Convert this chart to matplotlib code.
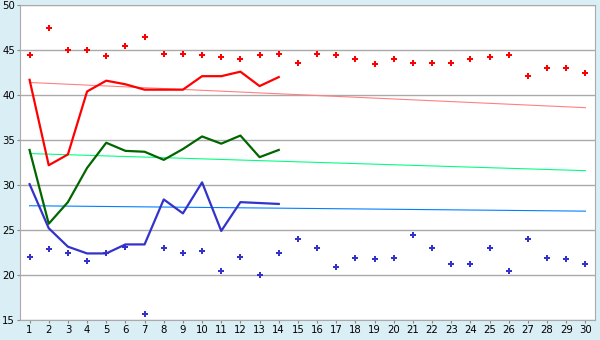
import matplotlib
matplotlib.use("Agg")
import matplotlib.pyplot as plt

days = list(range(1, 31))
line_days = list(range(1, 15))

# upper / lower markers
red_pts = [44.5, 47.4, 45.0, 45.0, 44.3, 45.5, 46.5, 44.6, 44.6, 44.5,
           44.2, 44.0, 44.5, 44.6, 43.6, 44.6, 44.5, 44.0, 43.4, 44.0,
           43.6, 43.6, 43.6, 44.0, 44.2, 44.5, 42.1, 43.0, 43.0, 42.5]
blue_pts = [22.0, 22.85, 22.5, 21.6, 22.5, 23.1, 15.7, 23.0, 22.4, 22.7,
            20.4, 22.0, 20.0, 22.4, 24.0, 23.0, 20.85, 21.85, 21.75, 21.85,
            24.5, 23.0, 21.2, 21.2, 23.0, 20.4, 24.0, 21.85, 21.75, 21.2]

# lines for the first 14 days
red_line = [41.7, 32.2, 33.4, 40.4, 41.6, 41.2, 40.6, 40.6, 40.6, 42.1, 42.1, 42.6, 41.0, 42.0]
green_line = [33.9, 25.7, 28.1, 31.9, 34.7, 33.8, 33.7, 32.8, 34.0, 35.4, 34.6, 35.5, 33.1, 33.9]
blue_line = [30.1, 25.2, 23.15, 22.4, 22.4, 23.4, 23.4, 28.4, 26.85, 30.3, 24.9, 28.1, 28.0, 27.9]

# trend lines (day 1 and day 30 values)
trend_days = [1, 30]
red_trend = [41.4, 38.6]
green_trend = [33.5, 31.6]
blue_trend = [27.7, 27.1]

fig = plt.figure(figsize=(6, 3.4), dpi=100, facecolor='#d9eef5')
ax = fig.add_axes([0.0333, 0.0588, 0.9584, 0.9262])
ax.set_facecolor('white')

ax.plot(trend_days, red_trend, color='#ff8080', lw=0.8)
ax.plot(trend_days, green_trend, color='#00ff80', lw=0.8)
ax.plot(trend_days, blue_trend, color='#0080ff', lw=0.8)

ax.plot(line_days, red_line, color='#ff0000', lw=1.6)
ax.plot(line_days, green_line, color='#006600', lw=1.6)
ax.plot(line_days, blue_line, color='#3333cc', lw=1.6)

ax.plot(days, red_pts, 'P', color='#ff0000', ms=4.8, mew=0, ls='none')
ax.plot(days, blue_pts, 'P', color='#3333cc', ms=4.8, mew=0, ls='none')

ax.set_xlim(0.5, 30.5)
ax.set_ylim(15, 50)
ax.set_xticks(days)
ax.set_yticks([15, 20, 25, 30, 35, 40, 45, 50])
ax.yaxis.grid(True, color='#aaaaaa', lw=1)
ax.set_axisbelow(True)
for s in ax.spines.values():
    s.set_color('#aaaaaa')
ax.tick_params(axis='both', colors='#888888', labelcolor='black', labelsize=7.3, length=2.5, pad=1)

fig.savefig("out.png", dpi=100, facecolor=fig.get_facecolor())
